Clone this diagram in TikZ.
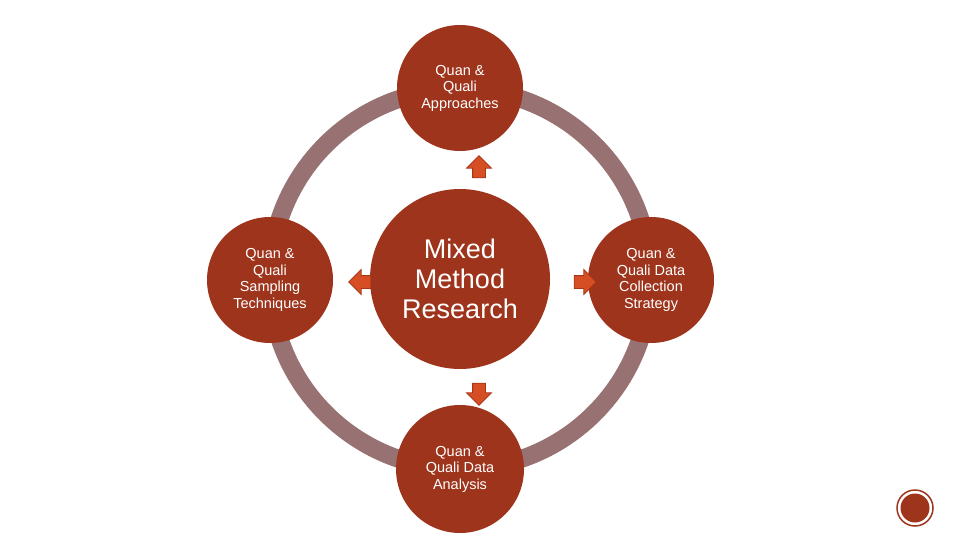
\documentclass[tikz,border=0pt]{standalone}
\usepackage{fontspec}
\setmainfont{Liberation Sans}
\usepackage{xcolor}
\usetikzlibrary{shapes.arrows}
\definecolor{rust}{RGB}{158,52,28}
\definecolor{ringgray}{RGB}{152,114,114}
\definecolor{arroworange}{RGB}{214,78,36}
\definecolor{arrowedge}{RGB}{168,52,22}

\begin{document}
\begin{tikzpicture}[x=1pt,y=-1pt,font=\fontsize{14.5}{16.5}\selectfont,
  bubble/.style={circle,fill=rust,text=white,align=center,inner sep=0pt,minimum size=#1},
  blockarrow/.style={single arrow,fill=arroworange,draw=arrowedge,line width=0.8pt,inner xsep=0pt,inner ysep=6pt,
    minimum height=22pt,single arrow head extend=6pt,rotate=#1}]
  \useasboundingbox (0,0) rectangle (960,540);
  \draw[ringgray,line width=18pt] (460,279) circle[radius=190];
  \node[bubble=180pt,font=\fontsize{27}{30}\selectfont] (mmr) at (460,279) {Mixed\\Method\\Research};
  \node[bubble=126pt] (appr) at (460,88) {Quan \&\\Quali\\Approaches};
  \node[bubble=126pt] (samp) at (270,280) {Quan \&\\Quali\\Sampling\\Techniques};
  \node[bubble=126pt] (coll) at (651,280) {Quan \&\\Quali Data\\Collection\\Strategy};
  \node[bubble=128pt] (anal) at (460,469) {Quan \&\\Quali Data\\Analysis};
  % arrows
  \node[blockarrow=90] (toappr) at (479,170) {};
  \node[blockarrow=180] (tosamp) at (363,282) {};
  \node[blockarrow=0] (tocoll) at (582,282) {};
  \node[blockarrow=270] (toanal) at (479,391) {};
  \node[circle,fill=rust,inner sep=0pt,minimum size=29pt] (pgdot) at (915,508) {};
  \node[circle,draw=rust,line width=1.5pt,inner sep=0pt,minimum size=36pt] (pgring) at (pgdot) {};
\end{tikzpicture}
\end{document}
